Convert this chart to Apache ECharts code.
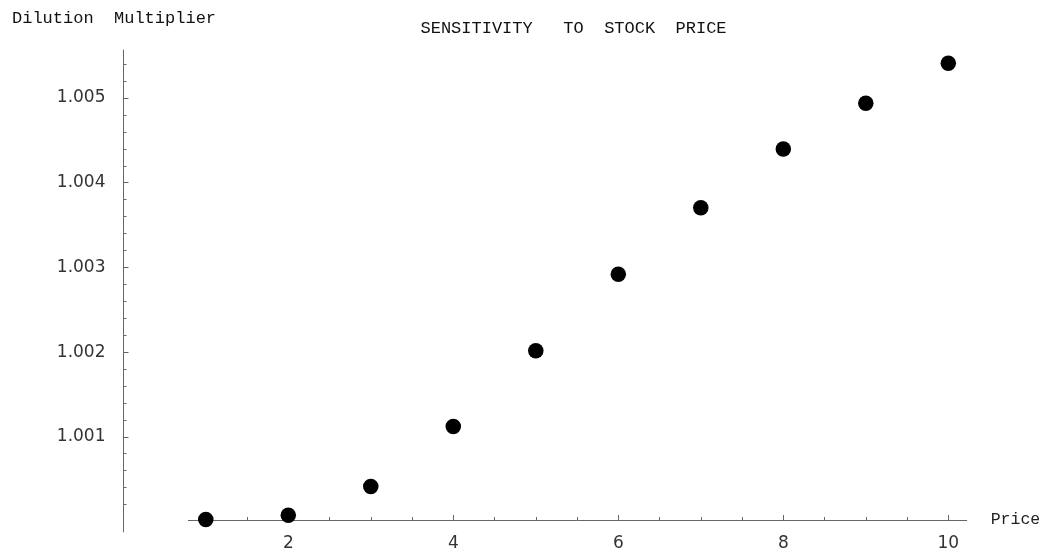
<!DOCTYPE html>
<html>
<head>
<meta charset="utf-8">
<script src="https://cdn.jsdelivr.net/npm/echarts@6/dist/echarts.min.js"></script>
<style>html,body{margin:0;padding:0;background:#fff;}#c{width:1046px;height:552px;}</style>
</head>
<body>
<div id="c"></div>
<script>
const prices = [1, 2, 3, 4, 5, 6, 7, 8, 9, 10];
const multipliers = [1.000005, 1.000057, 1.000396, 1.001107, 1.002005, 1.00291, 1.003698, 1.004394, 1.004937, 1.00541];
const xMajorTicks = [2, 4, 6, 8, 10];
const xTickLabels = ['2', '4', '6', '8', '10'];
const yMajorTicks = [1.001, 1.002, 1.003, 1.004, 1.005];
const yTickLabels = ['1.001', '1.002', '1.003', '1.004', '1.005'];
const titleText = 'SENSITIVITY   TO  STOCK  PRICE';
const yName = 'Dilution  Multiplier';
const xName = 'Price';

const xMinorTicks = [];
for (let i = 2; i <= 20; i++) { const v = i / 2; if (xMajorTicks.indexOf(v) < 0) xMinorTicks.push(v); }
const yMinorTicks = [];
for (let i = 1; i <= 27; i++) { const v = 1 + i * 0.0002; if (i % 5 !== 0) yMinorTicks.push(+v.toFixed(5)); }

const AX = '#666';
const LBL = { fontFamily: 'DejaVu Sans', fontSize: 17, color: '#333' };
function lookup(vals, labels, v) {
  for (let i = 0; i < vals.length; i++) if (Math.abs(vals[i] - v) < 1e-7) return labels[i];
  return '';
}

const chart = echarts.init(document.getElementById('c'), null, { renderer: 'canvas' });
chart.setOption({
  animation: false,
  backgroundColor: '#fff',
  grid: [
    { left: 123.5, top: 50, width: 60, height: 482 },
    { left: 188.3, right: 79.3, top: 50, height: 471.5 }
  ],
  xAxis: [
    { gridIndex: 0, type: 'value', min: 0, max: 1, show: false },
    {
      gridIndex: 1, type: 'value', position: 'bottom', min: 0.788, max: 10.223,
      axisLine: { show: true, onZero: false, lineStyle: { color: AX, width: 1 } },
      axisTick: { show: true, inside: true, length: 5, customValues: xMajorTicks, lineStyle: { color: AX } },
      axisLabel: { show: true, customValues: xMajorTicks, margin: 15, ...LBL,
        formatter: v => lookup(xMajorTicks, xTickLabels, v) },
      splitLine: { show: false },
      name: xName, nameLocation: 'end', nameGap: 24,
      nameTextStyle: { fontFamily: 'Liberation Mono', fontSize: 16.5, color: '#222', verticalAlign: 'middle', padding: [0, 0, 8, 0] }
    },
    {
      gridIndex: 1, type: 'value', position: 'bottom', min: 0.788, max: 10.223,
      axisLine: { show: false, onZero: false },
      axisTick: { show: true, inside: true, length: 3, customValues: xMinorTicks, lineStyle: { color: AX } },
      axisLabel: { show: false },
      splitLine: { show: false }
    }
  ],
  yAxis: [
    {
      gridIndex: 0, type: 'value', position: 'left', min: 0.999876, max: 1.005567,
      axisLine: { show: true, onZero: false, lineStyle: { color: AX, width: 1 } },
      axisTick: { show: true, inside: true, length: 5, customValues: yMajorTicks, lineStyle: { color: AX } },
      axisLabel: { show: true, customValues: yMajorTicks, margin: 18, ...LBL,
        formatter: v => lookup(yMajorTicks, yTickLabels, v) },
      splitLine: { show: false }
    },
    {
      gridIndex: 0, type: 'value', position: 'left', min: 0.999876, max: 1.005567,
      axisLine: { show: false, onZero: false },
      axisTick: { show: true, inside: true, length: 3, customValues: yMinorTicks, lineStyle: { color: AX } },
      axisLabel: { show: false },
      splitLine: { show: false }
    },
    { gridIndex: 1, type: 'value', min: 1.0, max: 1.005567, show: false, axisLine: { onZero: false }, splitLine: { show: false } }
  ],
  graphic: [
    { type: 'text', left: 420.5, top: 19.5, silent: true,
      style: { text: titleText, font: '17px "Liberation Mono"', fill: '#111' } },
    { type: 'text', left: 12, top: 9.5, silent: true,
      style: { text: yName, font: '17px "Liberation Mono"', fill: '#111' } }
  ],
  series: [{
    type: 'scatter', xAxisIndex: 1, yAxisIndex: 2, clip: false,
    symbol: 'circle', symbolSize: 15.5,
    itemStyle: { color: '#000', opacity: 1 },
    data: prices.map((p, i) => [p, multipliers[i]])
  }]
});
</script>
</body>
</html>
